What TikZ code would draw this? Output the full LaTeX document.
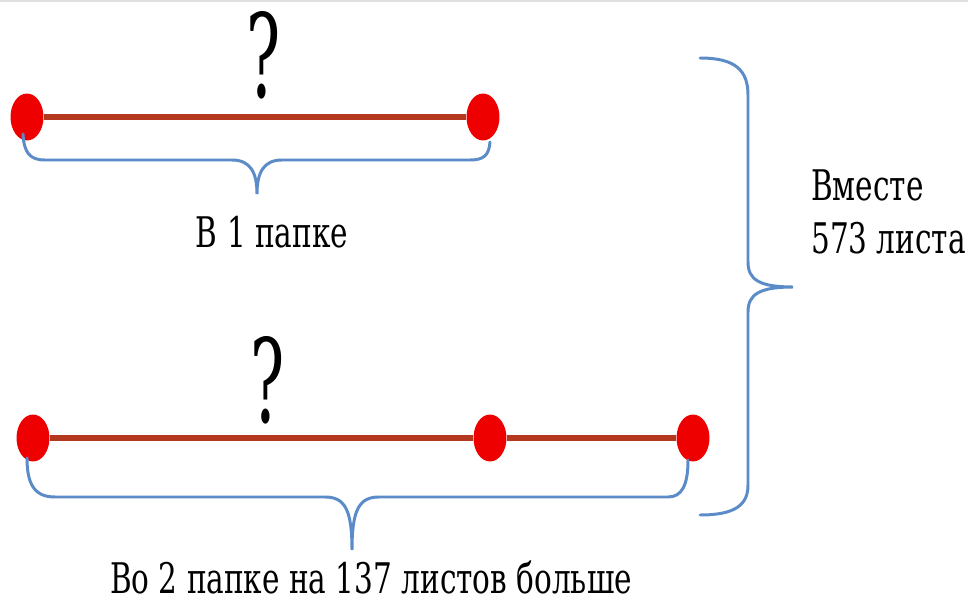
\documentclass[tikz,border=0pt]{standalone}
\usepackage{fontspec}
\setmainfont{DejaVu Serif}
\usetikzlibrary{shapes.geometric}
\definecolor{dotred}{HTML}{EE0000}
\definecolor{barbrown}{HTML}{B3381F}
\definecolor{braceblue}{HTML}{5B8CC8}
\tikzset{%
  % Specifications for style of nodes:
       dot/.style = {ellipse, fill=dotred, inner sep=0pt,
                     minimum width=0.66cm, minimum height=0.94cm},
       bar/.style = {barbrown, line width=3.2pt},
     brace/.style = {braceblue, line width=1.7pt, line cap=round},
     label/.style = {font=\fontsize{24}{30}\selectfont, inner sep=0pt,
                     xscale=0.7, anchor=base},
       ask/.style = {font=\fontsize{66}{70}\selectfont, inner sep=0pt,
                     xscale=0.55, anchor=base}
}
\begin{document}
\begin{tikzpicture}[x=0.02cm, y=-0.02cm]
  \useasboundingbox (0,0) rectangle (968,605);
  \draw[black!12, line width=1.5pt] (0,1) -- (968,1);
  % 1st folder
  \node (a1)   [dot] at (27,117) {};
  \node (a2)   [dot] at (483,117) {};
  \draw[bar]   (a1) -- (a2);
  \node (q1)   [ask] at (264,97) {?};
  \draw[brace] (23,134) .. controls (24,153) and (30,160) .. (45,160) -- (232,160)
               .. controls (250,160) and (257,172) .. (257,194)
               .. controls (257,172) and (264,160) .. (282,160) -- (470,160)
               .. controls (484,160) and (489,155) .. (490,142);
  \node (t1)   [label] at (272,247) {В 1 папке};
  % 2nd folder
  \node (b1)   [dot] at (33,438) {};
  \node (b2)   [dot] at (490,438) {};
  \node (b3)   [dot] at (693,438) {};
  \draw[bar]   (b1) -- (b2);
  \draw[bar]   (b2) -- (b3);
  \node (q2)   [ask] at (268,422) {?};
  \draw[brace] (27,458) .. controls (27,485) and (35,497) .. (55,497) -- (325,497)
               .. controls (345,497) and (352,510) .. (352,550)
               .. controls (352,510) and (359,497) .. (379,497) -- (668,497)
               .. controls (682,497) and (688,485) .. (688,460);
  \node (t2)   [label] at (371,593) {Во 2 папке на 137 листов больше};
  % together
  \draw[brace] (700,58) .. controls (735,58) and (748,70) .. (748,95) -- (748,262)
               .. controls (748,280) and (760,287) .. (793,287)
               .. controls (760,287) and (748,294) .. (748,312) -- (748,485)
               .. controls (748,505) and (735,515) .. (700,515);
  \node (sum)  [label, anchor=base west, align=left] at (811,253) {Вместе\\573 листа};
\end{tikzpicture}
\end{document}
